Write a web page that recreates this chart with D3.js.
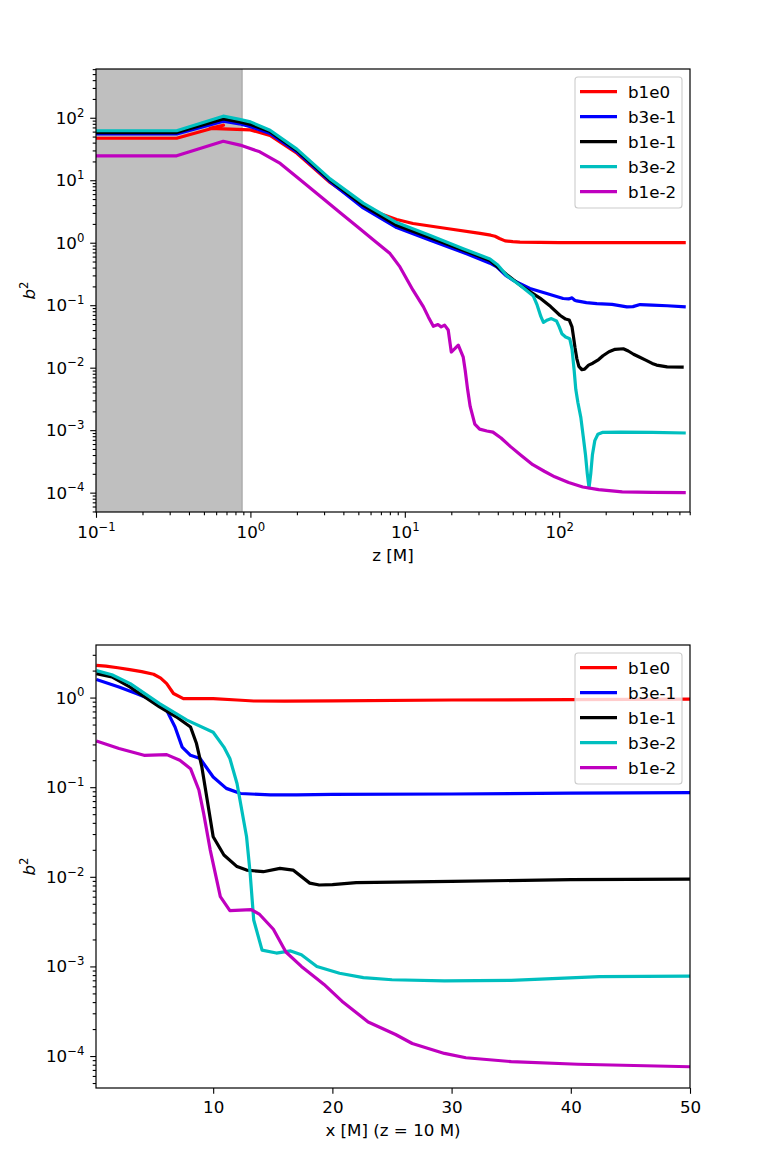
<!DOCTYPE html>
<html><head><meta charset="utf-8">
<script src="https://cdn.jsdelivr.net/npm/d3@7"></script>
<style>body{margin:0;background:#fff}svg{display:block;font-family:"DejaVu Sans",sans-serif}</style>
</head><body>
<svg id="c" width="768" height="1152"></svg>
<script>
// ---------- DATA ----------
const seriesNames = ["b1e0","b3e-1","b1e-1","b3e-2","b1e-2"];
const seriesColors = ["#ff0000","#0000ff","#000000","#00bfbf","#bf00bf"];

// top panel: b^2 vs z [M]
const top_b1e0 = [[0.1,47],[0.333,47],[0.669,76],[0.547,67.7],[1.0,64],[1.34,52],[2.0,27],[3.28,9.2],[5.38,3.9],[6.9,2.94],[8.85,2.35],[11.3,2.03],[18.7,1.69],[30.7,1.41],[36,1.32],[38.4,1.27],[41,1.17],[44.6,1.07],[50,1.04],[55.7,1.02],[100,1.0],[660,1.0]];
const top_b3e1 = [[0.1,55],[0.333,55],[0.667,88],[0.85,80],[1.0,72],[1.34,56],[2.0,28.5],[3.28,9.5],[5.38,3.6],[8.85,1.75],[14.6,1.1],[23.9,0.7],[35.6,0.47],[39.4,0.41],[45,0.3],[50.5,0.25],[64.6,0.185],[83,0.154],[106,0.128],[115,0.126],[121,0.131],[126,0.12],[130,0.117],[150,0.11],[175,0.106],[220,0.103],[274,0.094],[300,0.095],[334,0.1025],[400,0.1],[500,0.098],[660,0.094]];
const top_b1e1 = [[0.1,58],[0.333,58],[0.667,96],[0.85,86],[1.0,78],[1.34,60],[2.0,30],[3.28,10],[5.38,3.95],[8.85,1.9],[14.6,1.2],[23.9,0.76],[35.6,0.52],[45.6,0.31],[55.7,0.21],[75,0.13],[88,0.095],[101,0.069],[110,0.06],[116,0.058],[121,0.045],[124,0.03],[126.5,0.021],[130,0.014],[134,0.0105],[140,0.0093],[146,0.0095],[155,0.011],[165,0.0118],[180,0.0135],[192,0.0155],[210,0.018],[230,0.0197],[260,0.0201],[280,0.0185],[303,0.0164],[330,0.0148],[366,0.0131],[400,0.0117],[427,0.011],[500,0.0103],[640,0.0102]];
const top_b3e2 = [[0.1,62],[0.333,62],[0.667,106],[0.85,94],[1.0,86],[1.34,63],[2.0,31.5],[3.28,10.5],[5.38,4.3],[8.85,2.1],[14.6,1.3],[23.9,0.8],[35.6,0.55],[40,0.44],[45.6,0.3],[55.7,0.209],[68,0.14],[72,0.1],[76,0.066],[79,0.053],[84,0.058],[89,0.061],[96,0.056],[100,0.045],[104,0.035],[110,0.031],[117,0.029],[121,0.02],[125,0.009],[128,0.0045],[132,0.0028],[138,0.0016],[143,0.0008],[148,0.0004],[152,0.0002],[156,0.00012],[160,0.0002],[164,0.0004],[170,0.00068],[178,0.00086],[190,0.00092],[250,0.00093],[400,0.00092],[660,0.0009]];
const top_b1e2 = [[0.1,24.6],[0.333,24.6],[0.667,42],[0.857,36.5],[1.15,28.5],[1.56,18.6],[2.1,10.2],[2.82,5.6],[3.8,3.05],[5.0,1.75],[6.5,1.03],[8.02,0.67],[9.3,0.41],[11.3,0.174],[13.2,0.094],[14.2,0.065],[15.3,0.046],[16.4,0.049],[17.2,0.045],[18.1,0.048],[19.1,0.040],[20,0.0178],[21,0.02],[22.2,0.023],[23.9,0.0147],[24.6,0.0091],[25.5,0.0045],[26.5,0.0024],[28.4,0.00125],[30.5,0.00104],[34,0.00097],[37.2,0.00093],[42,0.00075],[48.6,0.00054],[57,0.00039],[67.4,0.00028],[80,0.00022],[93.5,0.000179],[115,0.000145],[142,0.000123],[180,0.000112],[256,0.000103],[400,0.000101],[660,0.0001]];
const topShade = [0.1, 0.883];
const topXTicks = [-1, 0, 1, 2];          // exponents
const topYTicks = [-4, -3, -2, -1, 0, 1, 2];

// bottom panel: b^2 vs x [M] at z = 10 M
const bot_b1e0 = [[0.2,2.29],[1,2.24],[2,2.15],[3,2.05],[4,1.95],[5,1.82],[5.6,1.65],[6.1,1.43],[6.67,1.11],[7.5,0.975],[10,0.975],[12,0.94],[13.4,0.916],[16,0.915],[20,0.92],[30,0.94],[40,0.95],[50,0.96]];
const bot_b3e1 = [[0.2,1.59],[2.1,1.31],[3.6,1.1],[5.0,0.93],[6.1,0.72],[6.8,0.47],[7.4,0.28],[8.1,0.227],[8.9,0.209],[10,0.13],[11.1,0.097],[12.3,0.085],[14.8,0.082],[17,0.082],[20,0.083],[30,0.084],[40,0.086],[50,0.087]];
const bot_b1e1 = [[0.2,1.85],[1.5,1.7],[3.04,1.31],[5.5,0.785],[6.9,0.61],[8.1,0.47],[8.6,0.307],[9.05,0.168],[9.5,0.072],[10,0.028],[10.9,0.0175],[12,0.013],[12.8,0.0119],[14.2,0.0114],[15.6,0.0124],[16.7,0.0119],[18.1,0.0085],[18.9,0.0081],[20,0.0082],[22,0.0086],[30,0.0089],[40,0.0093],[50,0.0094]];
const bot_b3e2 = [[0.2,2.0],[1.5,1.8],[3.04,1.43],[5.5,0.857],[7.8,0.56],[10,0.41],[10.9,0.28],[11.4,0.209],[12.0,0.11],[12.8,0.028],[13.1,0.011],[13.4,0.0033],[14.1,0.00152],[15.3,0.00141],[16.5,0.00149],[17.4,0.00135],[18.7,0.001],[20.6,0.00084],[22.6,0.00075],[25,0.00071],[29.4,0.00069],[35,0.0007],[42.4,0.00077],[50,0.00078]];
const bot_b1e2 = [[0.2,0.328],[2.1,0.27],[4.2,0.227],[6.1,0.231],[7.2,0.2],[8.1,0.161],[8.8,0.093],[9.2,0.051],[9.75,0.02],[10.6,0.006],[11.4,0.0042],[13.2,0.0043],[13.9,0.0038],[15.05,0.0026],[16.1,0.00145],[17.4,0.001],[18.7,0.00073],[19.3,0.00063],[20.8,0.00041],[23.0,0.00024],[25.3,0.000174],[26.7,0.000138],[29.4,0.000107],[31.2,0.0000957],[35,0.0000867],[40.6,0.000081],[50,0.000076]];
const botXTicks = [10, 20, 30, 40, 50];
const botYTicks = [-4, -3, -2, -1, 0];

const topSeries = [top_b1e0, top_b3e1, top_b1e1, top_b3e2, top_b1e2];
const botSeries = [bot_b1e0, bot_b3e1, bot_b1e1, bot_b3e2, bot_b1e2];

// ---------- DRAW ----------
const svg = d3.select("#c");
const FS = 16.7, SUP = 11.7;
const L = 96, R = 690;
const MAJ = 5.8, MIN = 3.3, PAD = 5.8;

function logMinors(domain){
  const out=[];
  for(let e=Math.floor(Math.log10(domain[0]))-1;e<=Math.ceil(Math.log10(domain[1]));e++){
    for(let k=2;k<=9;k++){const v=k*Math.pow(10,e); if(v>=domain[0]&&v<=domain[1]) out.push(v);}
  }
  return out;
}
function supLabel(sel){
  sel.selectAll(".tick text").each(function(d){
    const t=d3.select(this); t.text(null);
    const e=Math.round(Math.log10(d));
    t.append("tspan").text("10");
    t.append("tspan").attr("dy",-7.2).attr("font-size",SUP).text(e<0?"\u2212"+(-e):String(e));
  });
}
function styleAxis(g){
  g.select(".domain").remove();
  g.selectAll(".tick line").attr("stroke","#000").attr("stroke-width",1.1);
  g.selectAll(".tick text").attr("fill","#000").attr("font-size",FS).attr("font-family","DejaVu Sans");
}

function panel(cfg){
  const {top,bottom,x,y,series,id} = cfg;
  const g = svg.append("g");
  g.append("defs").append("clipPath").attr("id",id).append("rect")
    .attr("x",L).attr("y",top).attr("width",R-L).attr("height",bottom-top);
  if(cfg.shade){
    g.append("rect").attr("x",x(cfg.shade[0])).attr("y",top)
      .attr("width",x(cfg.shade[1])-x(cfg.shade[0])).attr("height",bottom-top)
      .attr("fill","#bfbfbf");
    g.append("line").attr("x1",x(cfg.shade[1])).attr("x2",x(cfg.shade[1]))
      .attr("y1",top).attr("y2",bottom).attr("stroke","#a8a8a8").attr("stroke-width",1.3);
  }
  const line = d3.line().x(d=>x(d[0])).y(d=>y(d[1]));
  const lg = g.append("g").attr("clip-path",`url(#${id})`);
  series.forEach((s,i)=>{
    lg.append("path").datum(s).attr("d",line).attr("fill","none")
      .attr("stroke",seriesColors[i]).attr("stroke-width",3.2)
      .attr("stroke-linejoin","round").attr("stroke-linecap","butt");
  });
  // axes
  const yMaj = cfg.yTicks.map(e=>Math.pow(10,e));
  const ga = g.append("g").attr("transform",`translate(${L},0)`)
    .call(d3.axisLeft(y).tickValues(yMaj).tickSize(MAJ).tickPadding(PAD));
  styleAxis(ga); supLabel(ga);
  ga.selectAll(".tick text").attr("dy",null).attr("y",5.5);
  const gm = g.append("g").attr("transform",`translate(${L},0)`)
    .call(d3.axisLeft(y).tickValues(logMinors(y.domain())).tickSize(MIN).tickFormat(""));
  styleAxis(gm);
  if(cfg.xLog){
    const xMaj = cfg.xTicks.map(e=>Math.pow(10,e));
    const gx = g.append("g").attr("transform",`translate(0,${bottom})`)
      .call(d3.axisBottom(x).tickValues(xMaj).tickSize(MAJ).tickPadding(PAD));
    styleAxis(gx); supLabel(gx);
    gx.selectAll(".tick text").attr("dy",null).attr("y",26);
    const gxm = g.append("g").attr("transform",`translate(0,${bottom})`)
      .call(d3.axisBottom(x).tickValues(logMinors(x.domain())).tickSize(MIN).tickFormat(""));
    styleAxis(gxm);
  } else {
    const gx = g.append("g").attr("transform",`translate(0,${bottom})`)
      .call(d3.axisBottom(x).tickValues(cfg.xTicks).tickSize(MAJ).tickPadding(PAD).tickFormat(d3.format("d")));
    styleAxis(gx);
    gx.selectAll(".tick text").attr("dy",null).attr("y",24.5);
  }
  // frame
  g.append("rect").attr("x",L).attr("y",top).attr("width",R-L).attr("height",bottom-top)
    .attr("fill","none").attr("stroke","#000").attr("stroke-width",1.2);
  // labels
  g.append("text").attr("x",(L+R)/2).attr("y",cfg.xLabelY).attr("text-anchor","middle")
    .attr("font-size",FS).text(cfg.xLabel);
  const yl = g.append("text").attr("transform",`translate(35,${(top+bottom)/2}) rotate(-90)`)
    .attr("text-anchor","middle").attr("font-size",FS);
  yl.append("tspan").attr("font-style","italic").text("b");
  yl.append("tspan").attr("dy",-7.2).attr("font-size",SUP).text("2");
  // legend
  const bx=575, by=top+8, bw=107, bh=131;
  const leg = g.append("g");
  leg.append("rect").attr("x",bx).attr("y",by).attr("width",bw).attr("height",bh).attr("rx",3)
    .attr("fill","#fff").attr("fill-opacity",0.8).attr("stroke","#cccccc").attr("stroke-width",1.1);
  seriesNames.forEach((n,i)=>{
    const yy = by+14.7+i*25;
    leg.append("line").attr("x1",bx+5).attr("x2",bx+42).attr("y1",yy).attr("y2",yy)
      .attr("stroke",seriesColors[i]).attr("stroke-width",3.2);
    leg.append("text").attr("x",bx+53).attr("y",yy+6).attr("font-size",FS).text(n);
  });
}

const topTop=69, topBot=512;
const xTop = d3.scaleLog().domain([0.1,703]).range([L,R]);
const yTop = d3.scaleLog().domain([4.9e-5,603]).range([topBot,topTop]);
panel({id:"clipTop",top:topTop,bottom:topBot,x:xTop,y:yTop,series:topSeries,shade:topShade,
  xLog:true,xTicks:topXTicks,yTicks:topYTicks,xLabel:"z [M]",xLabelY:561});

const botTop=645, botBot=1088;
const xBot = d3.scaleLinear().domain([0.17,50]).range([L,R]);
const yBot = d3.scaleLog().domain([4.4e-5,3.86]).range([botBot,botTop]);
panel({id:"clipBot",top:botTop,bottom:botBot,x:xBot,y:yBot,series:botSeries,
  xLog:false,xTicks:botXTicks,yTicks:botYTicks,xLabel:"x [M] (z = 10 M)",xLabelY:1136});
</script>
</body></html>
